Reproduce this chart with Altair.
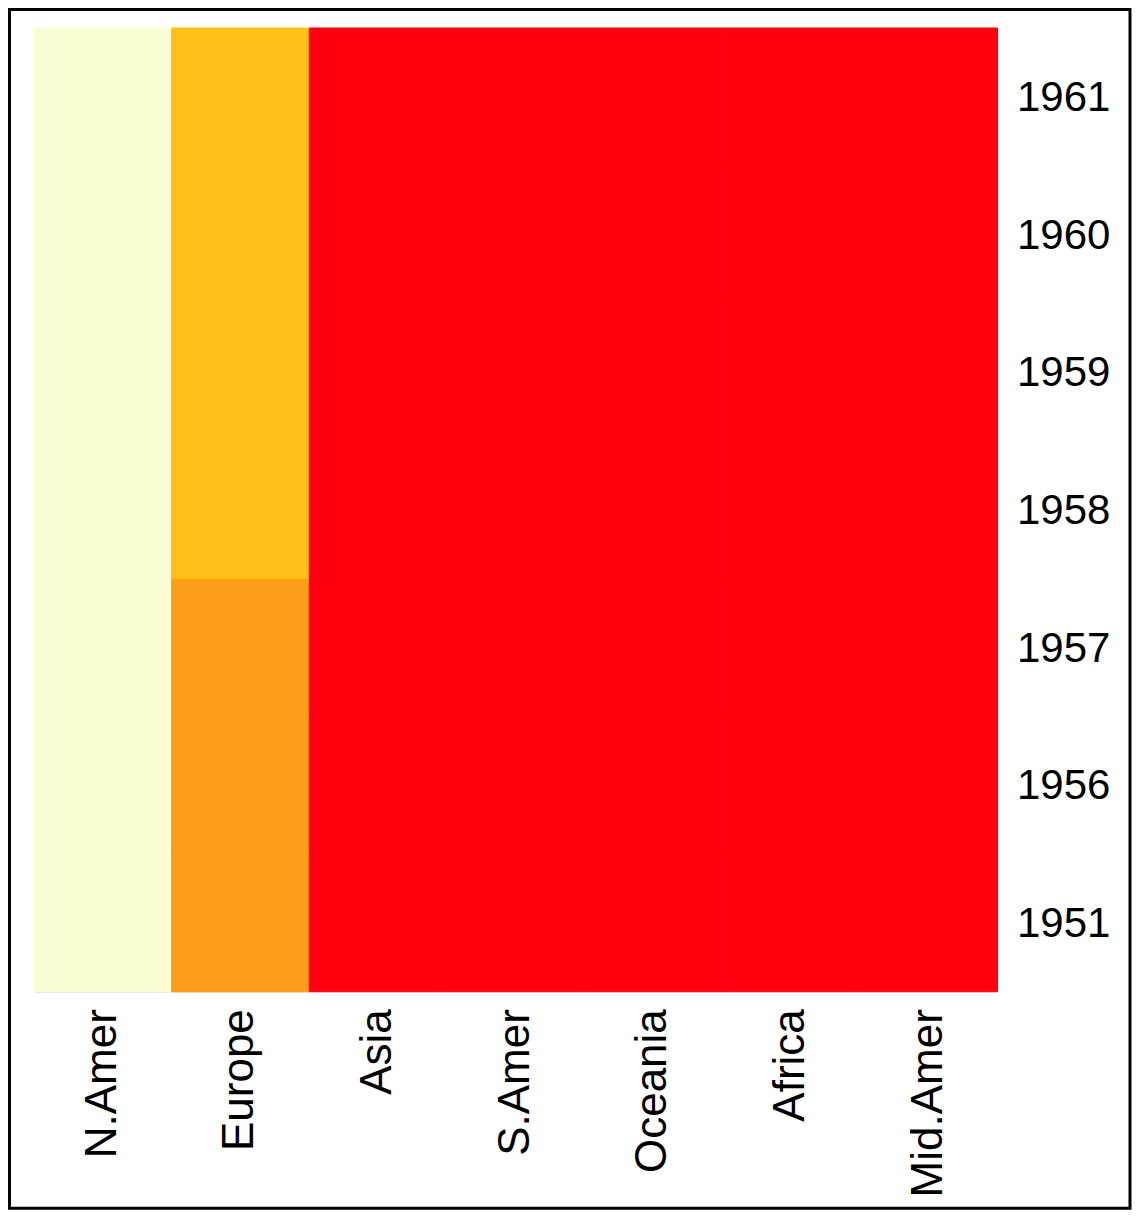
import altair as alt
import pandas as pd

years = ["1951", "1956", "1957", "1958", "1959", "1960", "1961"]
regions = ["N.Amer", "Europe", "Asia", "S.Amer", "Oceania", "Africa", "Mid.Amer"]
n_amer = [45939, 60423, 64721, 68484, 71799, 76036, 79831]
europe = [21574, 29990, 32510, 35218, 37598, 40341, 43173]
asia = [2876, 4708, 5230, 6662, 6856, 8220, 9053]
s_amer = [1815, 2568, 2695, 2845, 3000, 3145, 3338]
oceania = [1646, 2366, 2526, 2691, 2868, 3054, 3224]
africa = [89, 1411, 1546, 1663, 1769, 1905, 2005]
mid_amer = [555, 733, 773, 836, 911, 1008, 1076]

series = [n_amer, europe, asia, s_amer, oceania, africa, mid_amer]
rows = []
for reg, vals in zip(regions, series):
    for yr, v in zip(years, vals):
        rows.append({"region": reg, "year": yr, "phones": v})
df = pd.DataFrame(rows)

thresholds = [10000, 34000, 45000]
palette = ["#FE0010", "#FC9D19", "#FEC016", "#FDFDD5"]

W = 963.5
H = 963.7
PAD = {"left": 26, "top": 20, "right": 134, "bottom": 218}

cscale = alt.Scale(type="threshold", domain=thresholds, range=palette)

heat = alt.Chart(df).mark_rect(strokeWidth=1).encode(
    x=alt.X("region:N", sort=regions, title=None,
            scale=alt.Scale(paddingInner=0, paddingOuter=0),
            axis=alt.Axis(labelAngle=-90, ticks=False, domain=False,
                          labelPadding=17, labelFontSize=44,
                          labelFont="Liberation Sans", labelColor="black",
                          labelLimit=400)),
    y=alt.Y("year:N", sort=list(reversed(years)), title=None,
            scale=alt.Scale(paddingInner=0, paddingOuter=0),
            axis=alt.Axis(orient="right", ticks=False, domain=False,
                          labelPadding=19, labelFontSize=42, labelOffset=1,
                          labelFont="Liberation Sans", labelColor="black")),
    color=alt.Color("phones:Q", legend=None, scale=cscale),
    stroke=alt.Stroke("phones:Q", legend=None, scale=cscale),
)

frame = alt.Chart(pd.DataFrame({"k": [0]})).mark_rect(
    fill=None, stroke="black", strokeWidth=3
).encode(
    x=alt.value(-PAD["left"] + 1.5),
    x2=alt.value(W + PAD["right"] - 1.5),
    y=alt.value(-PAD["top"] + 1.5),
    y2=alt.value(H + PAD["bottom"] - 1.5),
)

chart = alt.layer(heat, frame).properties(
    width=W, height=H, padding=PAD,
    autosize=alt.AutoSizeParams(type="none"),
).configure_view(stroke=None).configure(background="white")

chart.save("out.html", embed_options={"renderer": "svg", "actions": False})
